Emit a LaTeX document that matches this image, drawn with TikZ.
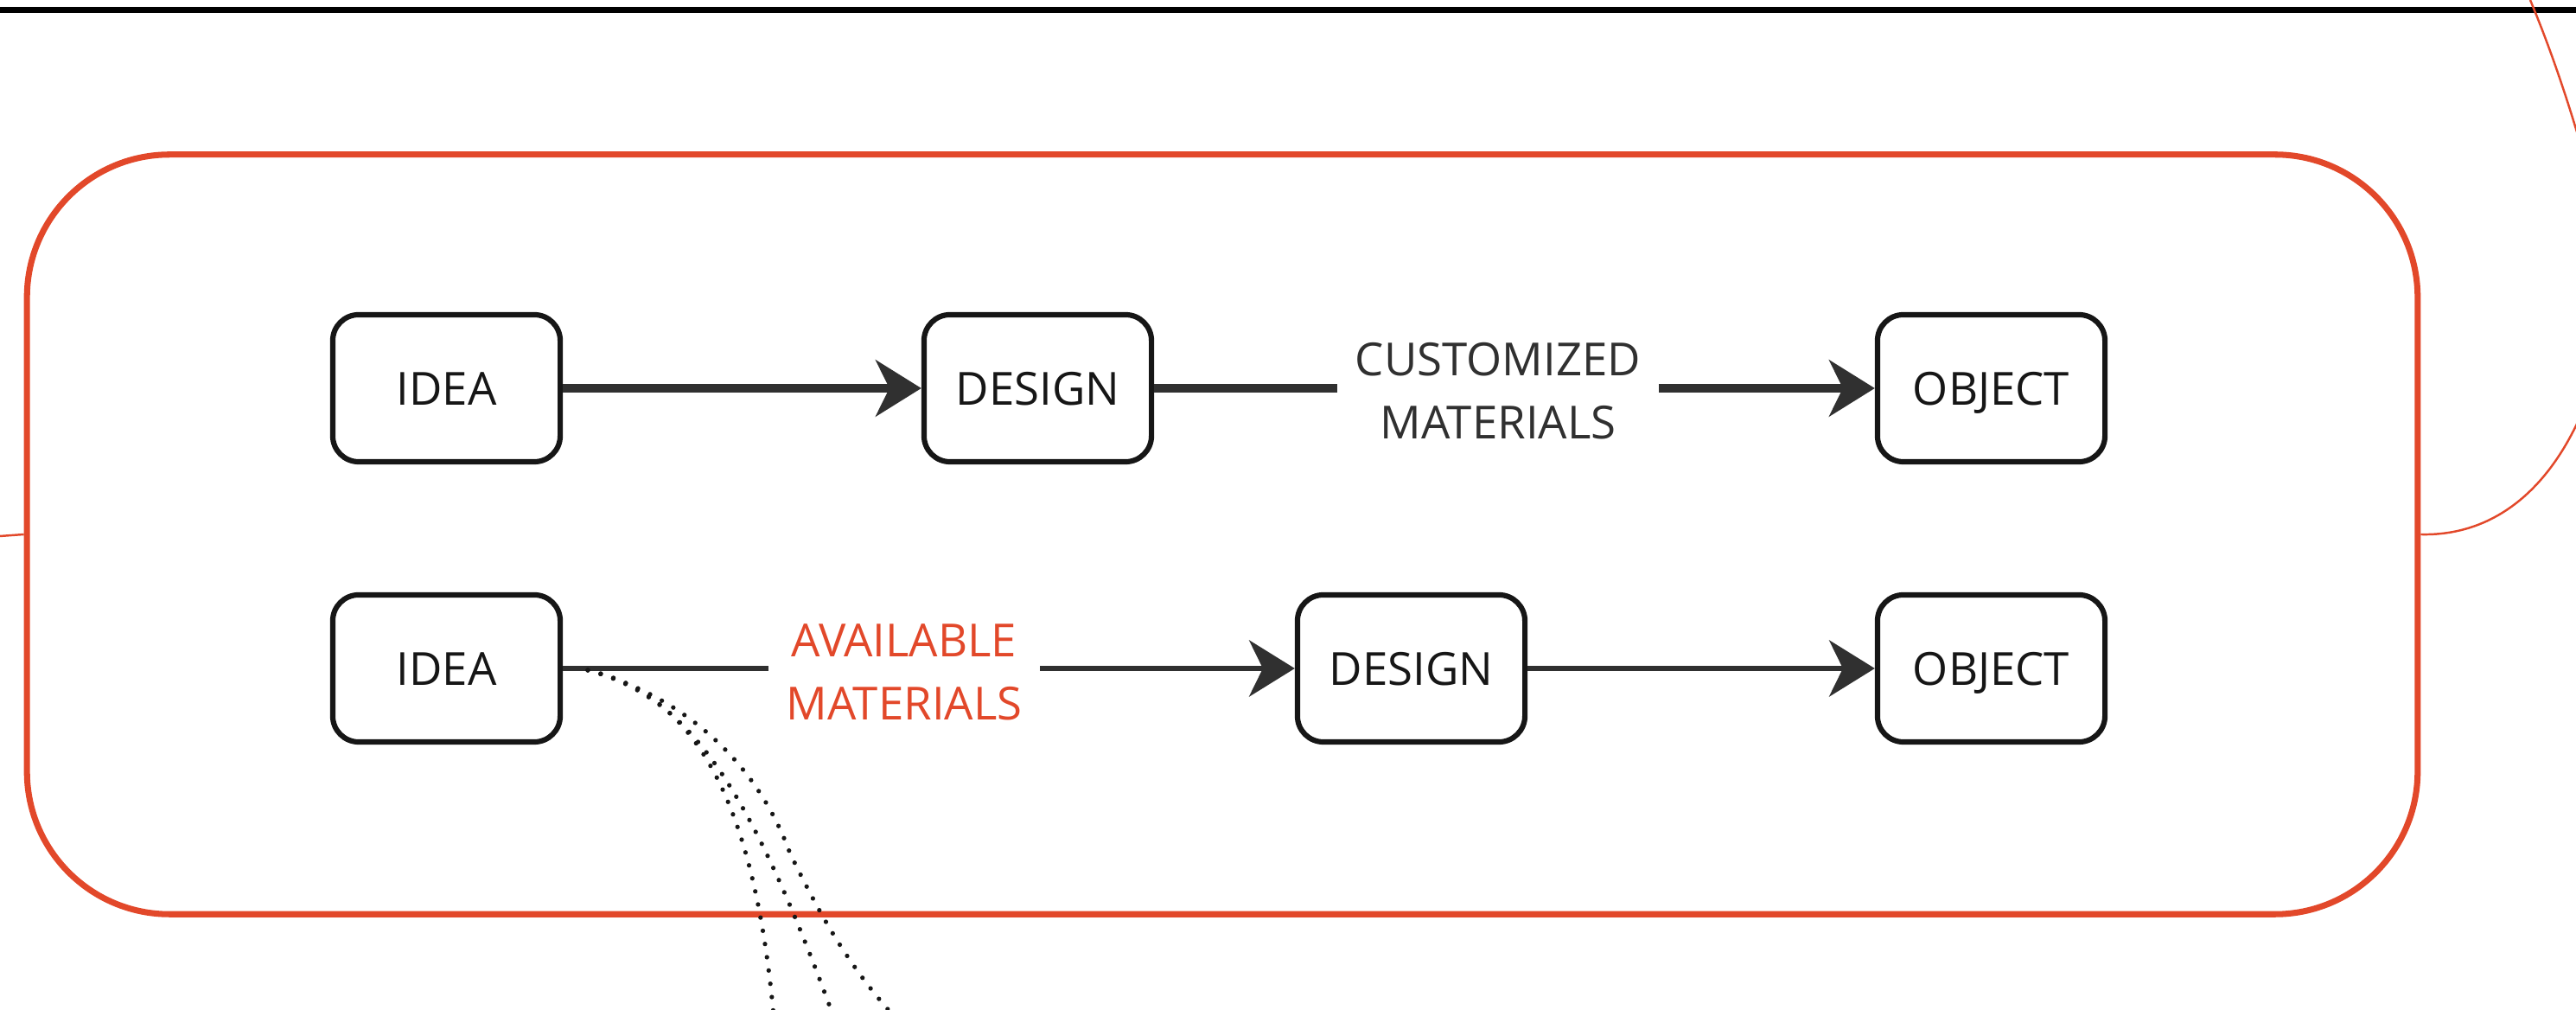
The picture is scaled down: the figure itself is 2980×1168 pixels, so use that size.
\documentclass[tikz,border=0pt]{standalone}
\usepackage{fontspec}
\setmainfont{Open Sans}
\usetikzlibrary{arrows.meta}

\definecolor{frameRed}{RGB}{226,72,42}
\definecolor{ink}{RGB}{22,22,22}
\definecolor{wire}{RGB}{48,48,48}

\begin{document}
\begin{tikzpicture}[x=0.01cm, y=-0.01cm,
  labelfont/.style={font=\fontsize{15pt}{20.8pt}\selectfont},
  stage/.style={draw=ink, line width=1.75pt, rounded corners=0.3cm,
    minimum width=2.63cm, minimum height=1.70cm, inner sep=0pt,
    text=ink, text height=11pt, text depth=0pt, labelfont},
  tag/.style={align=center, inner xsep=0.2cm, inner ysep=0pt, labelfont},
  headtip/.style={-{Stealth[length=15pt, width=18.5pt, inset=4.5pt]}},
  boldflow/.style={draw=wire, line width=2.7pt},
  thinflow/.style={draw=wire, line width=1.8pt},
  frameline/.style={draw=frameRed, line width=2pt},
  thread/.style={draw=frameRed, line width=0.7pt},
  dots/.style={draw=ink, line width=1.5pt, line cap=round, dash pattern=on 0pt off 4.4pt}
]
\useasboundingbox (0,0) rectangle (2980,1168);

% top rule
\coordinate (ruleL) at (0,11.5);
\coordinate (ruleR) at (2980,11.5);
\draw[line width=2pt, black] (ruleL) -- (ruleR);

% red frame around both process rows
\node[frameline, rounded corners=1.65cm, minimum width=27.64cm, minimum height=8.78cm,
  inner sep=0pt] (frame) at (1414,618) {};

% thin red lines leaving the frame
\coordinate (stubL) at (0,620);
\draw[thread] (stubL) -- (frame.west);
\coordinate (arcEnd) at (2990,470);
\draw[thread] (frame.east) .. controls (2880,620) and (2948,572) .. (arcEnd);
\coordinate (edgeTop) at (2927,0);
\coordinate (edgeLow) at (2992,190);
\draw[thread] (edgeTop) .. controls (2952,60) and (2972,120) .. (edgeLow);

% first row
\node[stage] (idea1) at (516.5,449) {IDEA};
\node[stage] (design1) at (1200.5,449) {DESIGN};
\node[stage] (object1) at (2303.5,449) {OBJECT};
\node[tag, text=wire] (custom) at (1733,452) {CUSTOMIZED\\MATERIALS};

\draw[boldflow, headtip] (idea1) -- (design1);
\draw[boldflow] (design1.east) -- (custom.west |- design1.east);
\draw[boldflow, headtip] (custom.east |- object1.west) -- (object1.west);

% second row
\node[stage] (idea2) at (516.5,773) {IDEA};
\node[stage] (design2) at (1632.5,773) {DESIGN};
\node[stage] (object2) at (2303.5,773) {OBJECT};
\node[tag, text=frameRed] (avail) at (1046,777) {AVAILABLE\\MATERIALS};

\draw[thinflow] (idea2.east) -- (avail.west |- idea2.east);
\draw[thinflow, headtip] (avail.east |- design2.west) -- (design2.west);
\draw[thinflow, headtip] (design2) -- (object2);

% dotted fan leaving the second idea
\coordinate (fanStart) at (680,775);
\coordinate (fanA) at (895,1175);
\coordinate (fanB) at (964,1175);
\coordinate (fanMid) at (914,987);
\coordinate (fanC) at (1034,1175);
\draw[dots] (fanStart) .. controls (790,800) and (870,900) .. (fanA);
\draw[dots] (fanStart) .. controls (790,805) and (860,890) .. (fanB);
\draw[dots] (fanStart) .. controls (790,805) and (875,880) .. (fanMid)
  .. controls (940,1040) and (975,1110) .. (fanC);
\end{tikzpicture}
\end{document}
